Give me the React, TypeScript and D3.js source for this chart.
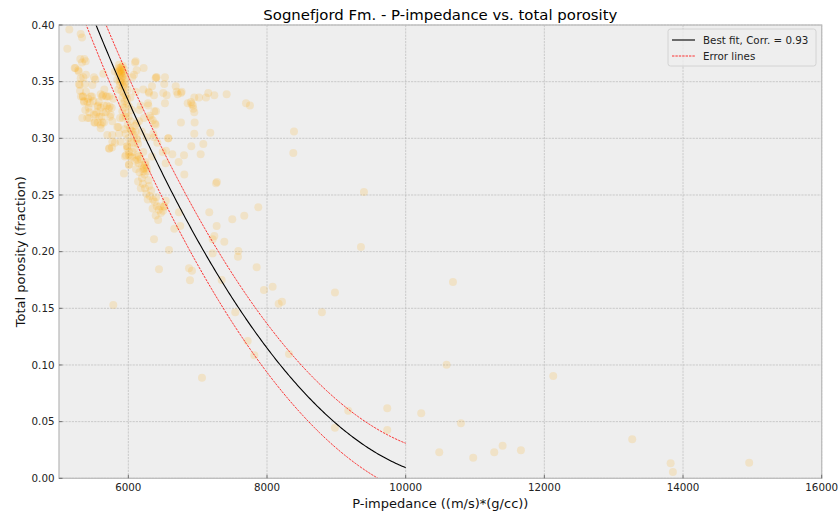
import React from "react";
import * as d3 from "d3";

const W = 839;
const H = 516;
const plot = { left: 59, right: 821.7, top: 25, bottom: 478.3 };

const xDomain = [5000, 16000];
const yDomain = [0, 0.4];
const xTicks = [6000, 8000, 10000, 12000, 14000, 16000];
const yTicks = [0, 0.05, 0.1, 0.15, 0.2, 0.25, 0.3, 0.35, 0.4];

// Quadratic best fit: porosity = c0 + c1*(Z/1000) + c2*(Z/1000)^2
const fitCoeffs = [1.6623, -0.30593, 0.014064];
const fitRange = [5000, 10000];
const errorOffset = 0.0215;
const correlation = 0.93;

// Samples as [P-impedance, total porosity]
const denseCore: [number, number][] = [
  [5860, 0.362], [5880, 0.36], [5895, 0.358], [5905, 0.356], [5915, 0.359], [5925, 0.355],
  [5890, 0.352], [5870, 0.355], [5850, 0.358], [5900, 0.363], [5935, 0.361], [5945, 0.352],
  [5910, 0.349], [5880, 0.347], [5925, 0.346], [5955, 0.357], [5840, 0.352], [5865, 0.365],
  [5920, 0.364], [5890, 0.357], [5905, 0.361], [5875, 0.35], [5950, 0.345], [5960, 0.35],
  [5930, 0.34], [5900, 0.342], [5960, 0.338], [5980, 0.335], [5915, 0.336], [5990, 0.343],
  [5885, 0.362], [5910, 0.354], [5870, 0.359], [5940, 0.348],
];

const trendBand: [number, number][] = [
  [5950, 0.333], [5985, 0.33], [6010, 0.328], [5935, 0.327], [6030, 0.336], [5970, 0.322],
  [6005, 0.319], [6050, 0.325], [5920, 0.318], [6040, 0.315], [5990, 0.312], [6025, 0.309],
  [6060, 0.306], [5960, 0.304], [6000, 0.3], [6080, 0.303], [6035, 0.297], [5945, 0.308],
  [6100, 0.311], [6070, 0.296], [5985, 0.293], [6010, 0.288], [6120, 0.3], [6090, 0.291],
  [6140, 0.295], [6030, 0.284], [5965, 0.285], [6060, 0.283], [6100, 0.28], [6130, 0.285],
  [6150, 0.278], [6175, 0.282], [6200, 0.276], [6110, 0.273], [6160, 0.27], [6220, 0.273],
  [6235, 0.268], [6195, 0.265], [6250, 0.279], [6270, 0.271], [6140, 0.262], [6210, 0.26],
  [6240, 0.256], [6290, 0.263], [6300, 0.258], [6180, 0.256], [6260, 0.251], [6310, 0.249],
  [6330, 0.254], [6355, 0.246], [6380, 0.244], [6400, 0.248], [6410, 0.24], [6440, 0.237],
  [6460, 0.24], [6470, 0.234], [6350, 0.238], [6395, 0.232], [6500, 0.236], [6430, 0.228],
  [6280, 0.246], [6226, 0.274], [6215, 0.271], [6240, 0.277], [6009, 0.277], [5937, 0.269],
  [5952, 0.284], [5981, 0.293], [6129, 0.281], [6215, 0.288], [6264, 0.274], [6341, 0.284],
  [6062, 0.288], [6043, 0.307], [6192, 0.306], [6129, 0.299], [6264, 0.301], [6360, 0.304],
  [6384, 0.313], [6418, 0.296], [6120, 0.313], [6158, 0.325], [6226, 0.318], [6308, 0.32],
  [6351, 0.316], [6374, 0.324], [6283, 0.331], [6106, 0.341], [6082, 0.356], [6106, 0.368],
  [6096, 0.367], [6120, 0.36], [6057, 0.354], [6221, 0.362], [6215, 0.343], [6293, 0.341],
  [6370, 0.338], [6399, 0.354], [6341, 0.346], [6178, 0.329], [6154, 0.315], [6106, 0.306],
  [6154, 0.284], [6009, 0.285], [5985, 0.291], [5889, 0.297], [6394, 0.312], [6370, 0.301],
  [6322, 0.318], [6288, 0.329], [6298, 0.34], [6394, 0.353], [6495, 0.288], [6539, 0.278],
  [6726, 0.279], [6518, 0.24], [6540, 0.245],
];

const leftCloud: [number, number][] = [
  [5149, 0.396], [5120, 0.379], [5313, 0.392], [5332, 0.389], [5235, 0.362], [5284, 0.359],
  [5307, 0.37], [5365, 0.37], [5332, 0.367], [5313, 0.353], [5288, 0.348], [5389, 0.356],
  [5523, 0.352], [5505, 0.354], [5303, 0.342], [5389, 0.341], [5342, 0.337], [5408, 0.332],
  [5361, 0.332], [5317, 0.337], [5428, 0.327], [5336, 0.318], [5437, 0.318], [5534, 0.321],
  [5553, 0.328], [5601, 0.327], [5620, 0.337], [5678, 0.337], [5572, 0.332], [5509, 0.314],
  [5601, 0.312], [5639, 0.323], [5717, 0.326], [5760, 0.327], [5735, 0.319], [5697, 0.303],
  [5726, 0.291], [5807, 0.296], [5855, 0.31], [5880, 0.318], [5913, 0.33], [5783, 0.335],
  [5855, 0.343], [5807, 0.359], [5639, 0.357], [5601, 0.339], [5653, 0.343], [5726, 0.337],
  [5692, 0.329], [5495, 0.333], [5437, 0.323], [5505, 0.321], [5581, 0.319], [5558, 0.314],
  [5649, 0.314], [5379, 0.325], [5422, 0.335], [5476, 0.337], [5385, 0.368], [5226, 0.362],
  [5278, 0.36], [5351, 0.354], [5298, 0.347], [5375, 0.348], [5346, 0.337], [5481, 0.347],
  [5457, 0.337], [5360, 0.333], [5447, 0.331], [5562, 0.329], [5634, 0.338], [5649, 0.329],
  [5697, 0.337], [5731, 0.328], [5543, 0.323], [5616, 0.319], [5408, 0.318], [5519, 0.314],
  [5625, 0.314], [5673, 0.323], [5745, 0.321], [5769, 0.315], [5601, 0.309], [5769, 0.303],
  [5865, 0.304], [5841, 0.31], [5913, 0.324], [5962, 0.319], [5721, 0.291], [5769, 0.297],
  [5764, 0.292], [5783, 0.153],
];

const midScatter: [number, number][] = [
  [6409, 0.354], [6518, 0.348], [6683, 0.346], [6769, 0.341], [6712, 0.339], [6504, 0.34],
  [6951, 0.336], [7019, 0.336], [7120, 0.336], [7153, 0.34], [7240, 0.338], [7418, 0.339],
  [7697, 0.331], [7754, 0.329], [6856, 0.331], [6913, 0.33], [6932, 0.329], [6951, 0.323],
  [6528, 0.331], [6759, 0.314], [6956, 0.314], [6951, 0.304], [7182, 0.305], [6576, 0.3],
  [6399, 0.324], [6908, 0.293], [7081, 0.295], [7043, 0.286], [6803, 0.285], [6634, 0.286],
  [6543, 0.289], [6807, 0.268], [6553, 0.338], [6697, 0.341], [6759, 0.34], [6903, 0.332],
  [6937, 0.326], [6576, 0.3], [8389, 0.306], [8379, 0.287], [6528, 0.354],
];

const sparseScatter: [number, number][] = [
  [14954, 0.0138], [13821, 0.0132], [13854, 0.0056], [13267, 0.0344], [8317, 0.1097],
  [10590, 0.1002], [12128, 0.0903], [9172, 0.0597], [9734, 0.0618], [8980, 0.0447],
  [9734, 0.0426], [10224, 0.0573], [10797, 0.0485], [10484, 0.0229], [10974, 0.0182],
  [11277, 0.0229], [11398, 0.0288], [11662, 0.0247], [7062, 0.0888], [7721, 0.1211],
  [7817, 0.1085], [10682, 0.1732], [8980, 0.164], [6370, 0.2109], [6586, 0.2014],
  [6442, 0.1844], [6875, 0.1853], [6918, 0.1832], [6889, 0.1747], [6730, 0.2347],
  [6749, 0.2226], [6663, 0.2202], [7167, 0.2347], [7264, 0.2603], [7278, 0.2614],
  [7216, 0.2109], [7240, 0.2138], [7274, 0.2226], [7384, 0.2088], [7216, 0.1985],
  [7499, 0.2285], [7672, 0.2317], [7874, 0.2391], [7586, 0.2006], [7581, 0.1955],
  [7851, 0.1862], [7346, 0.175], [7956, 0.1662], [8081, 0.1691], [8168, 0.154],
  [8216, 0.1558], [7542, 0.1465], [8792, 0.1465], [9355, 0.204], [9398, 0.2527],
  [6518, 0.2397], [6009, 0.2765],
];

const allPoints = [...leftCloud, ...midScatter, ...sparseScatter, ...trendBand, ...denseCore];

const x = d3.scaleLinear().domain(xDomain).range([plot.left, plot.right]);
const y = d3.scaleLinear().domain(yDomain).range([plot.bottom, plot.top]);

const fitValue = (z: number) => {
  const k = z / 1000;
  return fitCoeffs[0] + fitCoeffs[1] * k + fitCoeffs[2] * k * k;
};
const curveZ = d3.range(fitRange[0], fitRange[1] + 1, 20);
const line = d3
  .line<number>()
  .x((z) => x(z))
  .y((z) => y(fitValue(z)));
const lineUpper = d3
  .line<number>()
  .x((z) => x(z))
  .y((z) => y(fitValue(z) + errorOffset));
const lineLower = d3
  .line<number>()
  .x((z) => x(z))
  .y((z) => y(fitValue(z) - errorOffset));

const FONT = "DejaVu Sans, sans-serif";
const TICK_FS = 10.3;

export default function App() {
  const pw = plot.right - plot.left;
  const ph = plot.bottom - plot.top;
  return (
    <div style={{ position: "absolute", left: 0, top: 0 }}>
      <svg width={W} height={H} style={{ display: "block", background: "#fff" }} fontFamily={FONT}>
        <defs>
          <clipPath id="plotClip">
            <rect x={plot.left} y={plot.top} width={pw} height={ph} />
          </clipPath>
        </defs>
        <rect x={plot.left} y={plot.top} width={pw} height={ph} fill="#eeeeee" />
        {/* grid */}
        {xTicks.map((t) => (
          <line key={"gx" + t} x1={x(t)} x2={x(t)} y1={plot.top} y2={plot.bottom}
            stroke="#b2b2b2" strokeWidth={0.6} strokeDasharray="2.2,1" />
        ))}
        {yTicks.map((t) => (
          <line key={"gy" + t} x1={plot.left} x2={plot.right} y1={y(t)} y2={y(t)}
            stroke="#b2b2b2" strokeWidth={0.6} strokeDasharray="2.2,1" />
        ))}
        {/* samples */}
        <g clipPath="url(#plotClip)">
          {allPoints.map((p, i) => (
            <circle key={i} cx={x(p[0])} cy={y(p[1])} r={4} fill="#FFA500" fillOpacity={0.16} />
          ))}
          <path d={line(curveZ) || ""} fill="none" stroke="#000" strokeWidth={1.1} />
          <path d={lineUpper(curveZ) || ""} fill="none" stroke="#ff0000" strokeWidth={0.8} strokeDasharray="2.4,1" />
          <path d={lineLower(curveZ) || ""} fill="none" stroke="#ff0000" strokeWidth={0.8} strokeDasharray="2.4,1" />
        </g>
        {/* frame */}
        <rect x={plot.left} y={plot.top} width={pw} height={ph} fill="none" stroke="#bcbcbc" strokeWidth={1.3} />
        {/* ticks */}
        {xTicks.map((t) => (
          <g key={"tx" + t}>
            <line x1={x(t)} x2={x(t)} y1={plot.bottom} y2={plot.bottom - 3.5} stroke="#555" strokeWidth={0.8} />
            <text x={x(t)} y={491} textAnchor="middle" fontSize={TICK_FS} fill="#222">{t}</text>
          </g>
        ))}
        {yTicks.map((t) => (
          <g key={"ty" + t}>
            <line x1={plot.left} x2={plot.left + 3.5} y1={y(t)} y2={y(t)} stroke="#555" strokeWidth={0.8} />
            <text x={54.5} y={y(t)} dy="0.35em" textAnchor="end" fontSize={TICK_FS} fill="#222">{t.toFixed(2)}</text>
          </g>
        ))}
        {/* labels */}
        <text x={(plot.left + plot.right) / 2} y={19.5} textAnchor="middle" fontSize={14.9} fill="#000">
          Sognefjord Fm. - P-impedance vs. total porosity
        </text>
        <text x={(plot.left + plot.right) / 2} y={508} textAnchor="middle" fontSize={13} fill="#111">
          P-impedance ((m/s)*(g/cc))
        </text>
        <text transform={`translate(20,${(plot.top + plot.bottom) / 2}) rotate(-90)`} textAnchor="middle"
          dy="0.35em" fontSize={13} fill="#111">
          Total porosity (fraction)
        </text>
        {/* legend */}
        <g>
          <rect x={668} y={29} width={148} height={37} rx={2.5} fill="#eeeeee" fillOpacity={0.8} stroke="#cccccc" strokeWidth={0.8} />
          <line x1={672} x2={695} y1={40} y2={40} stroke="#000" strokeWidth={1.1} />
          <text x={703} y={40} dy="0.35em" fontSize={TICK_FS} fill="#222">
            {`Best fit, Corr. = ${correlation.toFixed(2)}`}
          </text>
          <line x1={672} x2={695} y1={56} y2={56} stroke="#ff0000" strokeWidth={0.8} strokeDasharray="2.4,1" />
          <text x={703} y={56} dy="0.35em" fontSize={TICK_FS} fill="#222">Error lines</text>
        </g>
      </svg>
    </div>
  );
}
